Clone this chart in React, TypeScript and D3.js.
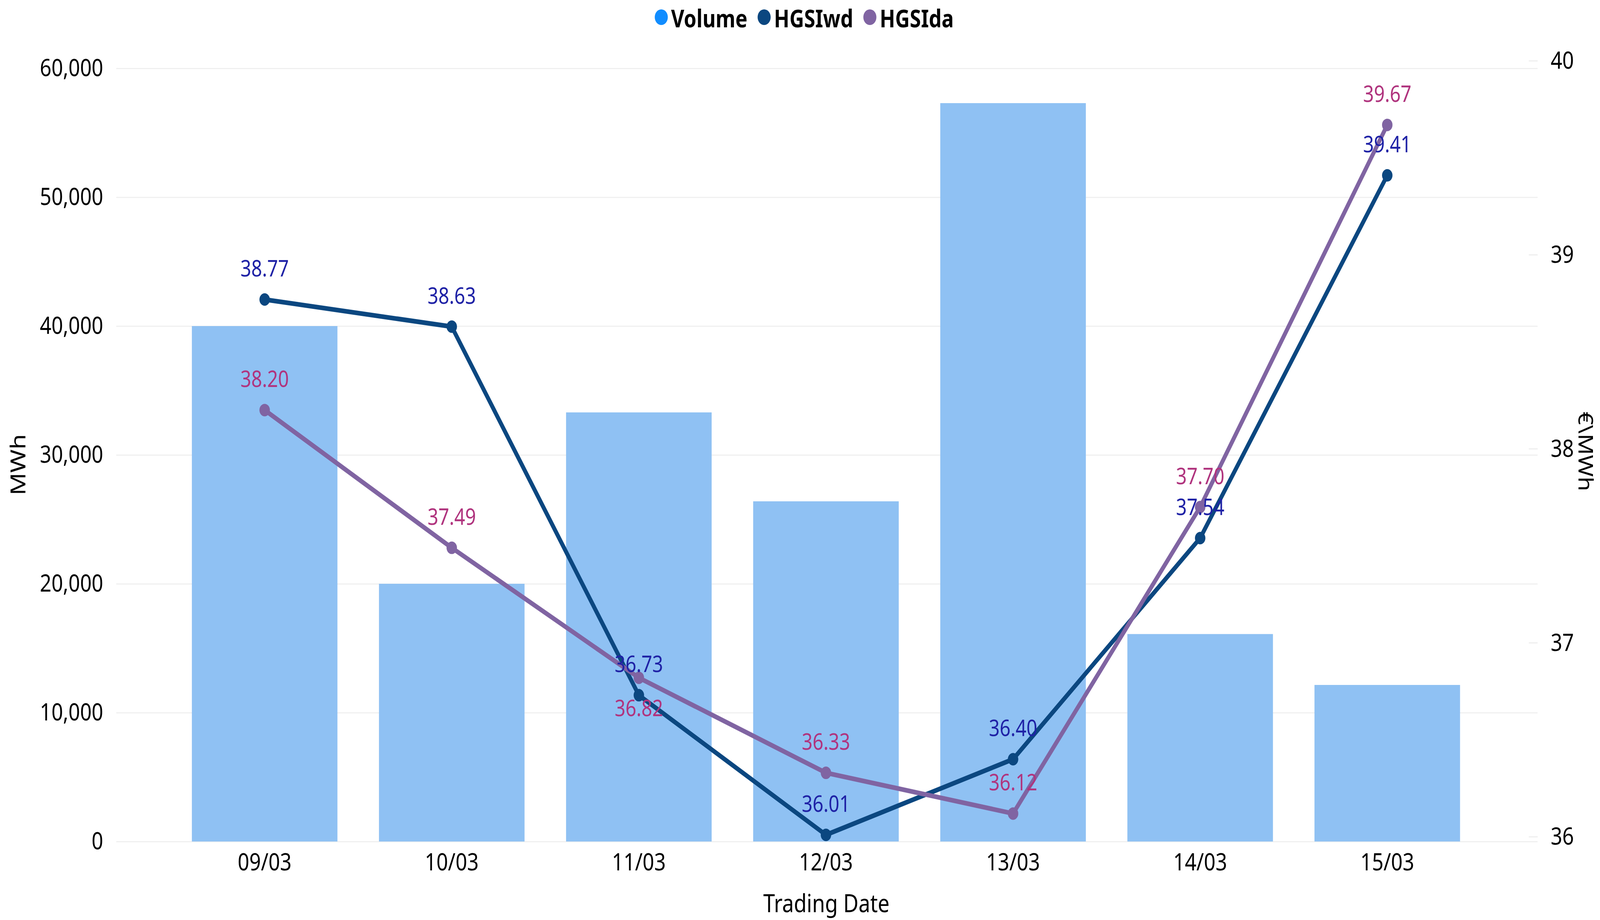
import React from "react";
import * as d3 from "d3";

const categories = ["09/03", "10/03", "11/03", "12/03", "13/03", "14/03", "15/03"];
const volume = [40000, 20000, 33300, 26400, 57300, 16100, 12150];
const hgsiwd = [38.77, 38.63, 36.73, 36.01, 36.4, 37.54, 39.41];
const hgsida = [38.2, 37.49, 36.82, 36.33, 36.12, 37.7, 39.67];
// where Power BI put each label of HGSIda (1 = below the point)
const hgsidaBelow = [0, 0, 1, 0, 0, 0, 0];
const leftTicks = [0, 10000, 20000, 30000, 40000, 50000, 60000];
const rightTicks = [36, 37, 38, 39, 40];
const legendItems = [
  { name: "Volume", color: "#118DFF" },
  { name: "HGSIwd", color: "#0B4780" },
  { name: "HGSIda", color: "#8064A2" },
];

const W = 4900;
const H = 2356;
const FONT = "'Segoe UI', 'Noto Sans', sans-serif";

const App = () => {
  const svgRef = React.useRef<SVGSVGElement>(null);

  React.useEffect(() => {
    document.body.style.margin = "0";
    document.body.style.overflow = "hidden";
    const svgEl = d3.select(svgRef.current);
    svgEl.selectAll("*").remove();
    const svg = svgEl.append("g");

    const x = d3.scaleBand<string>()
      .domain(categories)
      .range([524, 4535])
      .paddingInner(0.222)
      .paddingOuter(0.111);
    const yLeft = d3.scaleLinear().domain([0, 60000]).range([2155, 175]);
    const yRight = d3.scaleLinear().domain([36, 40]).range([2143, 156]);
    const cx = (c: string) => (x(c) as number) + x.bandwidth() / 2;

    // left grid lines + labels
    const yAxis = d3.axisLeft(yLeft)
      .tickValues(leftTicks)
      .tickSize(-(4709 - 356))
      .tickPadding(40)
      .tickFormat((v) => d3.format(",")(v as number));
    const yAxisGroup = svg.append("g")
      .attr("transform", "translate(356,0)")
      .call(yAxis);
    yAxisGroup.select(".domain").remove();
    yAxisGroup.selectAll("line").attr("stroke", "#f0f0f0").attr("stroke-width", 3);
    yAxisGroup.selectAll("text")
      .attr("fill", "#000")
      .attr("font-size", 62)
      .attr("font-family", FONT);

    // right axis: short tick marks + labels
    const yrAxis = d3.axisRight(yRight)
      .tickValues(rightTicks)
      .tickSize(0)
      .tickPadding(40)
      .tickFormat((v) => `${v}`);
    const yrGroup = svg.append("g")
      .attr("transform", "translate(4709,0)")
      .call(yrAxis);
    yrGroup.select(".domain").remove();
    yrGroup.selectAll("text")
      .attr("fill", "#000")
      .attr("font-size", 62)
      .attr("font-family", FONT);
    svg.append("g")
      .selectAll("line")
      .data(rightTicks)
      .enter()
      .append("line")
      .attr("x1", 4682)
      .attr("x2", 4709)
      .attr("y1", (d) => yRight(d))
      .attr("y2", (d) => yRight(d))
      .attr("stroke", "#eeeeee")
      .attr("stroke-width", 3);

    // bars
    svg.append("g")
      .selectAll("rect")
      .data(volume)
      .enter()
      .append("rect")
      .attr("x", (d, i) => x(categories[i]) as number)
      .attr("width", x.bandwidth())
      .attr("y", (d) => yLeft(d))
      .attr("height", (d) => yLeft(0) - yLeft(d))
      .attr("fill", "#8FC1F3");

    // x axis labels
    const xAxis = d3.axisBottom(x).tickSize(0).tickPadding(30);
    const xAxisGroup = svg.append("g")
      .attr("transform", "translate(0,2155)")
      .call(xAxis);
    xAxisGroup.select(".domain").remove();
    xAxisGroup.selectAll("text")
      .attr("fill", "#000")
      .attr("font-size", 62)
      .attr("font-family", FONT);

    // lines
    const series = [
      { values: hgsiwd, color: "#0B4780", label: "#1F22A6", below: [0, 0, 0, 0, 0, 0, 0] },
      { values: hgsida, color: "#8064A2", label: "#B0347E", below: hgsidaBelow },
    ];
    const line = d3.line<number>()
      .x((d, i) => cx(categories[i]))
      .y((d) => yRight(d));
    series.forEach((s) => {
      const g = svg.append("g");
      g.append("path")
        .attr("fill", "none")
        .attr("stroke", s.color)
        .attr("stroke-width", 12)
        .attr("stroke-linejoin", "round")
        .attr("d", line(s.values));
      g.selectAll("circle")
        .data(s.values)
        .enter()
        .append("circle")
        .attr("cx", (d, i) => cx(categories[i]))
        .attr("cy", (d) => yRight(d))
        .attr("r", 16)
        .attr("fill", s.color);
    });
    series.forEach((s) => {
      svg.append("g")
        .selectAll("text")
        .data(s.values)
        .enter()
        .append("text")
        .attr("x", (d, i) => cx(categories[i]))
        .attr("y", (d, i) => yRight(d) + (s.below[i] ? 98 : -59))
        .attr("text-anchor", "middle")
        .attr("fill", s.label)
        .attr("font-size", 58)
        .attr("font-family", FONT)
        .text((d) => d.toFixed(2));
    });

    // axis titles
    svg.append("text")
      .attr("x", 2531)
      .attr("y", 2336)
      .attr("text-anchor", "middle")
      .attr("font-size", 64)
      .attr("font-family", FONT)
      .text("Trading Date");
    svg.append("text")
      .attr("transform", "translate(78,1190) rotate(-90)")
      .attr("text-anchor", "middle")
      .attr("font-size", 64)
      .attr("font-family", FONT)
      .text("MWh");
    svg.append("text")
      .attr("transform", "translate(4834,1156) rotate(90)")
      .attr("text-anchor", "middle")
      .attr("font-size", 60)
      .attr("font-family", FONT)
      .text("€\\MWh");

    // legend, laid out from measured text widths
    const legend = svg.append("g");
    let lx = 0;
    legendItems.forEach((item) => {
      legend.append("circle")
        .attr("cx", lx + 20)
        .attr("cy", 44)
        .attr("r", 20)
        .attr("fill", item.color);
      const t = legend.append("text")
        .attr("x", lx + 50)
        .attr("y", 70)
        .attr("font-size", 62)
        .attr("font-weight", "bold")
        .attr("font-family", FONT)
        .text(item.name);
      const w = (t.node() as SVGTextElement).getComputedTextLength();
      lx += 50 + w + 31;
    });
    const legendWidth = lx - 31;
    legend.attr("transform", `translate(${2463 - legendWidth / 2},0)`);
  }, []);

  // the chart is laid out in 4900x2356 units and stretched to fill the page
  return (
    <svg
      ref={svgRef}
      viewBox={`0 0 ${W} ${H}`}
      preserveAspectRatio="none"
      style={{ display: "block", width: "100vw", height: "100vh", background: "#fff" }}
    />
  );
};

export default App;
